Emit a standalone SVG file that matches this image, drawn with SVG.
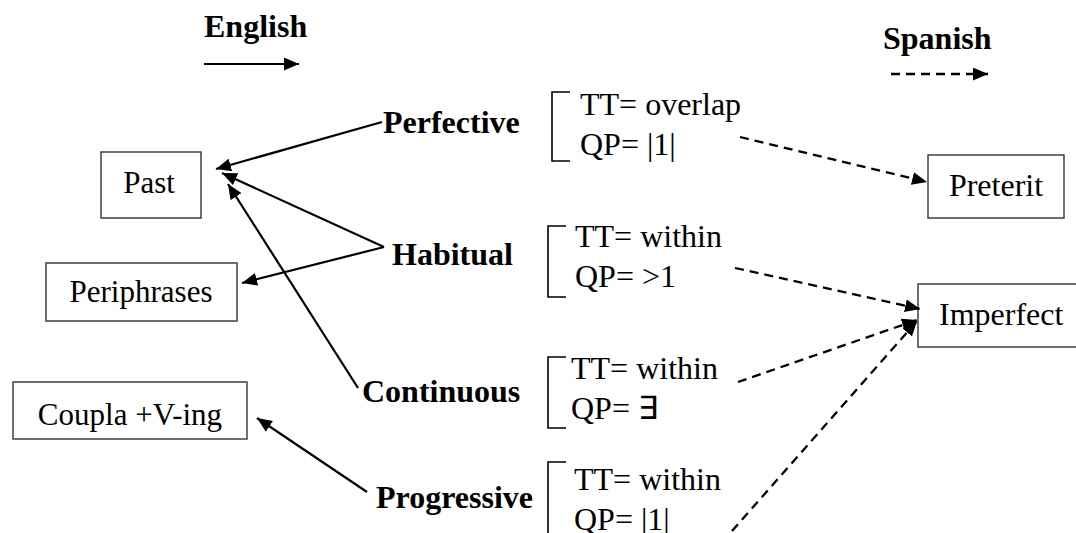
<svg xmlns="http://www.w3.org/2000/svg" width="1076" height="533" viewBox="0 0 1076 533">
<style>
.box{fill:#fff;stroke:#333;stroke-width:1.4}
.t{font-family:"Liberation Serif","Times New Roman",serif;font-size:32px;fill:#000}
.tb{font-family:"Liberation Serif","Times New Roman",serif;font-size:31px;fill:#000}
.b{font-family:"Liberation Serif","Times New Roman",serif;font-size:32px;font-weight:bold;fill:#000}
.br{fill:none;stroke:#000;stroke-width:1.6}
.sol{fill:none;stroke:#000;stroke-width:2.2;marker-end:url(#ah)}
.das{fill:none;stroke:#000;stroke-width:2.3;stroke-dasharray:9 6;marker-end:url(#ah)}
</style>
<defs>
<marker id="ah" markerUnits="userSpaceOnUse" markerWidth="16" markerHeight="13" refX="15" refY="6.5" orient="auto">
<path d="M0,0 L15,6.5 L0,13 Z" fill="#000"/>
</marker>
</defs>
<g id="legend">
<text class="b" x="204" y="37" font-size="31">English</text>
<line class="sol" x1="204" y1="64" x2="299" y2="64"/>
<text class="b" x="883" y="49" font-size="31">Spanish</text>
<line class="das" x1="891" y1="74" x2="988" y2="74"/>
</g>
<g id="past"><rect class="box" x="101" y="152" width="100" height="66"/><text class="tb" x="149" y="193" text-anchor="middle">Past</text></g>
<g id="periphrases"><rect class="box" x="46" y="263" width="191" height="58"/><text class="tb" x="141" y="302" text-anchor="middle">Periphrases</text></g>
<g id="coupla"><rect class="box" x="13" y="382" width="234" height="57"/><text class="tb" x="130" y="425" text-anchor="middle">Coupla +V-ing</text></g>
<g id="preterit"><rect class="box" x="928" y="155" width="136" height="63"/><text class="t" x="996" y="196" text-anchor="middle">Preterit</text></g>
<g id="imperfect"><rect class="box" x="918" y="284" width="160" height="63"/><text class="t" x="939" y="325">Imperfect</text></g>
<g id="perfective"><text class="b" x="383" y="133">Perfective</text>
<path class="br" d="M570,92 H552 V161 H570"/><text class="t" x="580" y="115">TT= overlap</text><text class="t" x="580" y="155">QP= |1|</text></g>
<g id="habitual"><text class="b" x="392" y="265">Habitual</text>
<path class="br" d="M566,226 H548 V297 H566"/><text class="t" x="575" y="247">TT= within</text><text class="t" x="575" y="287">QP= &gt;1</text></g>
<g id="continuous"><text class="b" x="362" y="402">Continuous</text>
<path class="br" d="M566,357 H548 V428 H566"/><text class="t" x="571" y="379">TT= within</text><text class="t" x="571" y="419">QP= ∃</text></g>
<g id="progressive"><text class="b" x="376" y="508">Progressive</text>
<path class="br" d="M566,462 H548 V540"/><text class="t" x="574" y="490">TT= within</text><text class="t" x="574" y="530">QP= |1|</text></g>
<g id="connectors">
<line class="sol" x1="382" y1="122" x2="216" y2="169"/>
<line class="sol" x1="384" y1="247" x2="222" y2="173"/>
<line class="sol" x1="358" y1="388" x2="228" y2="184"/>
<line class="sol" x1="384" y1="247" x2="242" y2="283"/>
<line class="sol" x1="367" y1="492" x2="257" y2="418"/>
<line class="das" x1="740" y1="137" x2="927" y2="182"/>
<line class="das" x1="735" y1="268" x2="920" y2="309"/>
<line class="das" x1="738" y1="382" x2="917" y2="320"/>
<line class="das" x1="732" y1="531" x2="917" y2="321"/>
</g>
</svg>
